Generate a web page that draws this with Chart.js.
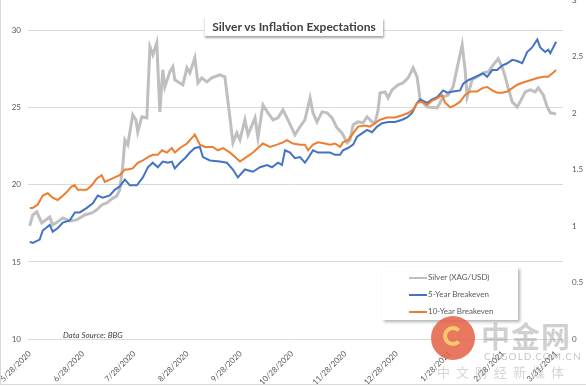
<!DOCTYPE html>
<html>
<head>
<meta charset="utf-8">
<script src="https://cdn.jsdelivr.net/npm/chart.js@4.4.1/dist/chart.umd.min.js"></script>
<style>
  body { margin: 0; background: #fff; }
  #wrap { position: relative; width: 586px; height: 387px; overflow: hidden; font-family: Lato, "Open Sans", sans-serif; }
  #chart { position: absolute; left: 0; top: 0; }
  #frame { position: absolute; left: 0; top: -2px; width: 590px; height: 386px; border-left: 1px solid #d9d9d9; border-bottom: 1px solid #d9d9d9; pointer-events: none; }
  #title { position: absolute; left: 204px; top: 18px; width: 178px; height: 18px; background: #fff; box-shadow: 1px 2px 2px rgba(0,0,0,0.35); border-left: 1px solid #e6e6e6;
           font-weight: bold; font-size: 12px; line-height: 18px; color: #404040; text-align: center; white-space: nowrap; }
  #legend { position: absolute; left: 382px; top: 267px; width: 136px; height: 53px; background: #fff; box-shadow: 2px 2px 3px rgba(0,0,0,0.3); }
  .item { position: absolute; left: 27px; height: 12px; font-size: 8px; line-height: 12px; color: #595959; white-space: nowrap; }
  .item span { display: inline-block; width: 18px; height: 2px; vertical-align: middle; margin-right: 1px; }
  #source { position: absolute; left: 63px; top: 330px; font-size: 8px; font-style: italic; color: #404040; }
  #logo { position: absolute; left: 431px; top: 316px; width: 44px; height: 44px; border-radius: 50%; background: rgba(228,98,68,0.85); }
  #logo div { position: absolute; left: 12px; top: 10px; width: 12px; height: 12px; border-radius: 50%; border: 4px solid rgba(250,205,110,0.95); border-right-color: transparent; }
  #wm1 { position: absolute; left: 481px; top: 314px; font-family: "Noto Sans CJK SC"; font-weight: bold; font-size: 29px; color: rgba(150,150,150,0.45); letter-spacing: 1px; }
  #wm2 { position: absolute; left: 484px; top: 350px; font-size: 10px; color: rgba(150,150,150,0.55); letter-spacing: 1px; }
  #wm3 { position: absolute; left: 437px; top: 362px; font-family: "Noto Sans CJK SC"; font-size: 13px; color: rgba(150,150,150,0.4); letter-spacing: 6px; }
</style>
</head>
<body>
<div id="wrap">
  <canvas id="chart" width="586" height="387"></canvas>
  <div id="title">Silver vs Inflation Expectations</div>
  <div id="legend"></div>
  <div id="source">Data Source: BBG</div>
  <div id="logo"><div></div></div>
  <div id="wm1">中金网</div>
  <div id="wm2">CNGOLD.COM.CN</div>
  <div id="wm3">中文财经新媒体</div>
  <div id="frame"></div>
</div>
<script>
// x axis: days since 5/28/2020
const tickDays = [0, 31, 61, 92, 123, 153, 184, 214, 245, 276, 307];
const tickLabels = ['5/28/2020', '6/28/2020', '7/28/2020', '8/28/2020', '9/28/2020', '10/28/2020',
                    '11/28/2020', '12/28/2020', '1/28/2021', '2/28/2021', '3/31/2021'];
const leftTicks = [10, 15, 20, 25, 30];

// Silver (XAG/USD), left axis
const silverDays = [0,1.8,4.1,7,11.7,13.4,16.3,19.3,23.4,27.4,
  32.1,36.2,39.1,42,44.9,47.9,50.8,52.5,54.3,55.5,
  57.2,60.1,61.9,63,65.4,68.3,70.1,71.8,74.1,75.9,
  77.6,78.8,81.7,83.5,84.6,86.4,89.3,91.7,93.4,96.3,
  98.1,100.4,103.3,106.2,110.9,113.8,116.7,118.5,120.8,122.6,
  125.5,127.3,131.4,133.1,136,138.9,141.9,144.8,147.7,150.6,
  154.7,157.6,160.5,163.5,165.2,167.5,170.5,173.4,176.3,179.2,
  182.1,185.1,186.8,188.6,191.5,194.4,196.7,199.6,201.4,203.2,
  204.3,207.2,209,211.3,214.8,217.7,220.7,223.6,225.9,227.7,
  231.8,237.6,241.1,244,246.9,249.9,252.2,253.9,255.1,258,
  260.9,264.4,267.4,270.3,273.2,275.5,277.3,279,281.4,284.3,
  286,289,291.9,294.8,296.6,299.5,301.8,303.6,307];
const silverPrice = [17.34,18.05,18.25,17.53,17.92,17.4,17.6,17.86,17.66,17.73,
  18.05,18.18,18.38,18.7,18.83,19.09,19.29,19.68,21.3,22.92,
  22.6,24.55,24.22,23.44,24.42,24.35,28.96,28.44,29.22,24.74,
  27.47,26.36,27.34,27.66,26.82,26.69,26.49,27.6,27.27,28.25,
  26.62,26.95,26.69,26.95,27.14,27.01,24.42,22.73,23.38,22.92,
  24.22,23.25,24.35,23.05,25.19,24.68,24.22,24.35,24.87,24.22,
  23.25,23.77,24.22,25.65,24.68,24.09,24.74,24.68,24.35,23.7,
  23.38,22.73,22.92,23.9,24.09,24.03,24.42,24.09,24.03,24.87,
  25.97,26.04,25.65,26.17,26.49,26.62,26.95,27.6,27.01,25.52,
  25.06,25,25.71,25.84,26.36,27.92,29.09,27.47,25.71,26.82,
  27.01,27.27,27.34,27.79,28.18,27.66,27.01,26.3,25.39,25.06,
  25.39,26.04,26.17,26.04,26.3,25.84,25.06,24.68,24.61];

// 5-Year Breakeven, right axis
const be5Days = [0,1.8,5.8,7.6,11.7,13.4,16.3,19.3,23.4,26.3,
  29.2,33.3,36.8,39.7,42.6,46.7,49.6,52.5,55.5,58.4,
  62.5,66,68.9,71.8,74.7,77.6,80.6,82.9,84.6,87.6,
  90.5,93.4,96.3,99.2,101,105.1,110.9,115,118.5,121.4,
  125.5,130.2,134.3,138.4,141.3,144.8,147.1,148.9,151.8,154.7,
  157.6,160.5,162.3,165.2,168.1,171,175.1,178.1,181,182.7,
  185.6,188.6,190.9,193.8,196.7,199.6,202.6,205.5,209,213.1,
  217.2,220.1,223,225.9,227.7,231.8,234.7,237.6,241.1,243.4,
  246.9,251,252.8,255.7,258.6,261.5,264.4,266.8,269.7,272.6,
  275.5,278.5,281.4,284.3,287.2,290.1,293,296,297.7,300.6,
  302.4,303.6,307];
const be5Rate = [0.86,0.85,0.88,0.96,1.01,0.95,0.98,1.03,1.05,1.12,
  1.12,1.16,1.2,1.27,1.25,1.27,1.32,1.35,1.41,1.36,
  1.36,1.43,1.52,1.56,1.52,1.57,1.56,1.57,1.51,1.56,
  1.6,1.65,1.69,1.7,1.61,1.58,1.57,1.56,1.5,1.43,
  1.5,1.48,1.52,1.54,1.52,1.56,1.54,1.67,1.65,1.6,
  1.61,1.56,1.6,1.67,1.65,1.65,1.65,1.63,1.63,1.67,
  1.69,1.72,1.79,1.82,1.85,1.83,1.88,1.91,1.92,1.92,
  1.94,1.96,2,2.09,2.12,2.09,2.12,2.14,2.2,2.18,
  2.19,2.2,2.26,2.29,2.31,2.33,2.35,2.32,2.38,2.38,
  2.42,2.44,2.47,2.46,2.44,2.54,2.58,2.65,2.58,2.54,
  2.56,2.53,2.63];

// 10-Year Breakeven, right axis
const be10Days = [0,1.8,4.7,7.6,10.5,13.4,16.3,18.7,21.6,24.5,
  26.3,28,33.3,36.2,39.1,42,43.8,46.7,49.6,52.5,
  55.5,57.2,60.1,63,66,68.9,71.8,74.7,77.1,80,
  82.9,84.6,87.6,91.7,94.6,96.3,99.2,102.2,106.8,109.7,
  112.7,116.8,119.7,122.6,125.5,130.2,133.1,136,140.1,144.2,
  147.7,150,153.5,157.6,160.5,162.3,165.2,168.1,172.2,175.1,
  178.1,181,182.7,185.6,188.6,191.5,195.6,198.5,201.4,204.3,
  208.4,213.1,217.2,220.7,223.6,225.9,228.8,231.8,234.7,237.6,
  240.5,242.3,245.2,248.1,251,253.9,256.9,260.9,263.9,266.8,
  269.7,272.6,275.5,278.5,281.4,284.3,287.8,291.9,296,299.5,
  302.4,304.7,307];
const be10Rate = [1.16,1.16,1.19,1.27,1.29,1.25,1.23,1.26,1.3,1.35,
  1.36,1.32,1.32,1.36,1.42,1.45,1.39,1.41,1.43,1.45,
  1.5,1.5,1.51,1.56,1.58,1.61,1.63,1.63,1.67,1.65,
  1.69,1.65,1.69,1.73,1.78,1.81,1.72,1.7,1.7,1.67,
  1.69,1.65,1.61,1.57,1.6,1.65,1.69,1.73,1.7,1.72,
  1.74,1.76,1.73,1.72,1.72,1.67,1.72,1.74,1.73,1.72,
  1.73,1.7,1.74,1.76,1.82,1.88,1.89,1.88,1.91,1.94,
  1.96,1.96,1.98,2,2.03,2.09,2.1,2.07,2.11,2.13,
  2.16,2.09,2.05,2.07,2.1,2.16,2.19,2.19,2.22,2.23,
  2.2,2.18,2.18,2.19,2.22,2.25,2.27,2.29,2.31,2.32,
  2.32,2.35,2.38];

const toPoints = (xs, ys) => xs.map((x, i) => ({ x: x, y: ys[i] }));
const tickFont = { family: 'Lato', size: 8 };

const chart = new Chart(document.getElementById('chart'), {
  type: 'line',
  data: {
    datasets: [
      { label: 'Silver (XAG/USD)', data: toPoints(silverDays, silverPrice), yAxisID: 'y',
        borderColor: '#bfbfbf', borderWidth: 3, order: 3 },
      { label: '5-Year Breakeven', data: toPoints(be5Days, be5Rate), yAxisID: 'y2',
        borderColor: '#4472c4', borderWidth: 2, order: 2 },
      { label: '10-Year Breakeven', data: toPoints(be10Days, be10Rate), yAxisID: 'y2',
        borderColor: '#ed7d31', borderWidth: 2, order: 1 }
    ]
  },
  options: {
    responsive: false,
    animation: false,
    devicePixelRatio: 1,
    layout: { padding: 0 },
    elements: { point: { radius: 0 }, line: { tension: 0 } },
    plugins: { legend: { display: false }, title: { display: false }, tooltip: { enabled: false } },
    scales: {
      x: {
        type: 'linear', min: -1, max: 311,
        afterBuildTicks: s => { s.ticks = tickDays.map(v => ({ value: v })); },
        afterFit: s => { s.height = 48; s.paddingLeft = 0; s.paddingRight = 0; },
        ticks: { callback: v => tickLabels[tickDays.indexOf(v)], autoSkip: false,
                 minRotation: 45, maxRotation: 45, font: tickFont, color: '#595959', padding: 2 },
        grid: { display: false },
        border: { display: false }
      },
      y: {
        position: 'left', min: 10, max: 32,
        afterBuildTicks: s => { s.ticks = leftTicks.map(v => ({ value: v })); },
        afterFit: s => { s.width = 28; s.paddingTop = 0; s.paddingBottom = 0; },
        ticks: { font: tickFont, color: '#595959', padding: 7 },
        grid: { color: '#d9d9d9', drawTicks: false },
        border: { display: false }
      },
      y2: {
        position: 'right', min: 0, max: 3,
        afterFit: s => { s.width = 23; s.paddingTop = 0; s.paddingBottom = 0; },
        ticks: { stepSize: 0.5, callback: v => String(v), font: tickFont, color: '#595959', padding: 9 },
        grid: { display: false, drawTicks: false },
        border: { display: false }
      }
    }
  }
});

// Legend box built from the datasets
const legend = document.getElementById('legend');
chart.data.datasets.forEach((ds, i) => {
  const item = document.createElement('div');
  item.className = 'item';
  item.style.top = (4 + i * 17) + 'px';
  item.innerHTML = `<span style="background:${ds.borderColor}"></span>${ds.label}`;
  legend.appendChild(item);
});
</script>
</body>
</html>
